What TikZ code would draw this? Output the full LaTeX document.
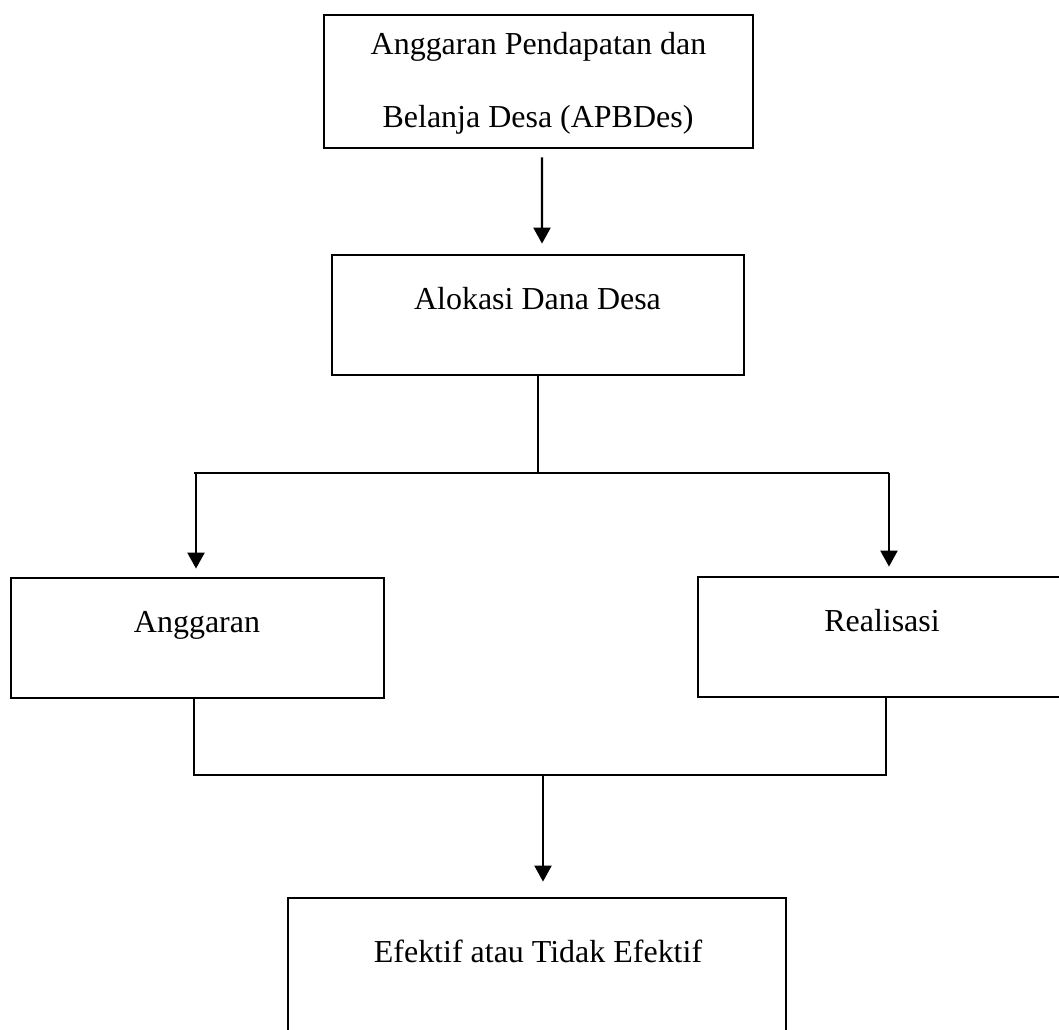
\documentclass[tikz,border=0pt]{standalone}
\usepackage{fontspec}
\setmainfont{Liberation Serif}
\usetikzlibrary{arrows.meta}
\begin{document}
\begin{tikzpicture}[x=0.02cm,y=-0.02cm,
  box/.style={draw, line width=1.6pt, inner sep=0pt, rectangle},
  lbl/.style={font=\fontsize{18.2}{22}\selectfont, inner sep=0pt, anchor=base},
  conn/.style={line width=1.6pt},
  arr/.style={line width=1.25pt, -{Triangle[length=0.32cm,width=0.34cm]}}]
\path[use as bounding box, clip] (0,0) rectangle (1059,1030);
% boxes
\node[box, minimum width=8.58cm, minimum height=2.66cm] (b1) at (538.5,81.5) {};
\node[box, minimum width=8.24cm, minimum height=2.4cm] (b2) at (538,315) {};
\node[box, minimum width=7.46cm, minimum height=2.4cm] (b3) at (197.5,638) {};
\node[box, minimum width=7.8cm, minimum height=2.4cm] (b4) at (893,637) {};
\node[box, minimum width=9.96cm, minimum height=2.94cm] (b5) at (537,971.5) {};
% texts
\node[lbl] (t1a) at (538.5,55) {Anggaran Pendapatan dan};
\node[lbl] (t1b) at (538,128) {Belanja Desa (APBDes)};
\node[lbl] (t2) at (537.5,310) {Alokasi Dana Desa};
\node[lbl] (t3) at (197,633) {Anggaran};
\node[lbl] (t4) at (882,632) {Realisasi};
\node[lbl] (t5) at (538,962) {Efektif atau Tidak Efektif};
% connectors
\draw[arr, shorten <=0.16cm, shorten >=0.2cm] ([xshift=0.07cm]b1.south) -- ([xshift=0.08cm]b2.north);
\coordinate (jl) at (194,473);
\coordinate (jr) at (889,473);
\coordinate (jla) at (196,473);
\draw[conn] (b2.south) -- (b2.south |- jl);
\draw[conn] (jl) -- (jr);
\draw[arr, shorten >=0.16cm] (jla) -- (jla |- b3.north);
\draw[arr, shorten >=0.18cm] (jr) -- (jr |- b4.north);
\coordinate (kl) at (194,775);
\coordinate (kr) at (886,775);
\coordinate (km) at (543,775);
\draw[conn] (kl |- b3.south) -- (kl) -- (kr) -- (kr |- b4.south);
\draw[arr, shorten >=0.3cm] (km) -- (km |- b5.north);
\end{tikzpicture}
\end{document}
